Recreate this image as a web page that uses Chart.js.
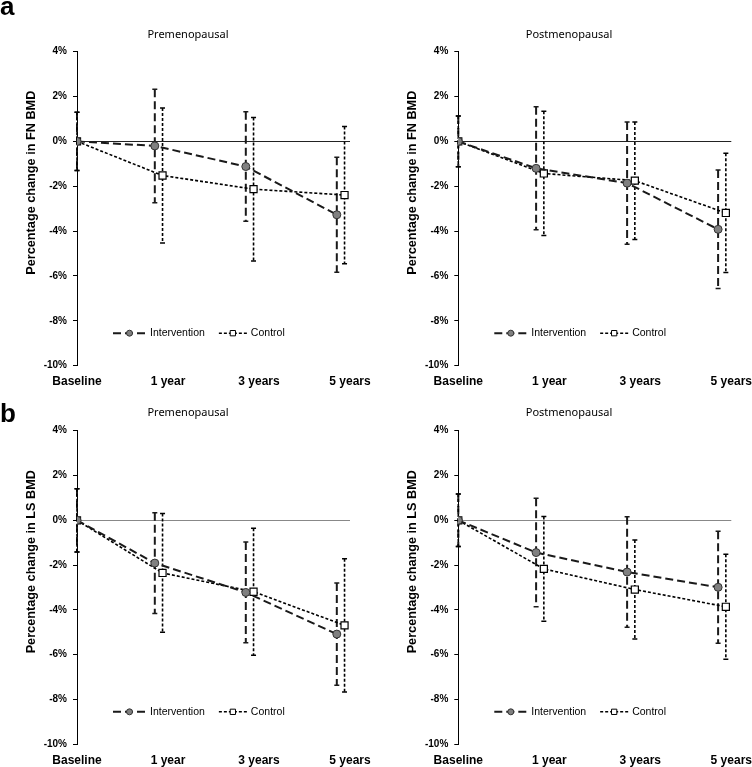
<!DOCTYPE html>
<html>
<head>
<meta charset="utf-8">
<script src="https://cdn.jsdelivr.net/npm/chart.js@4.4.0/dist/chart.umd.min.js"></script>
<style>
    body { margin: 0; background: #fff; width: 752px; height: 767px; position: relative; overflow: hidden; }
    canvas { position: absolute; }
    .tag { position: absolute; left: 0; font: bold 26px "Liberation Sans", Arial, sans-serif; line-height: 26px; color: #000; }
</style>
</head>
<body>
<canvas id="fnPre" width="376" height="390" style="left:0;top:0"></canvas>
<canvas id="fnPost" width="366" height="390" style="left:386px;top:0"></canvas>
<canvas id="lsPre" width="376" height="377" style="left:0;top:390px"></canvas>
<canvas id="lsPost" width="366" height="377" style="left:386px;top:390px"></canvas>
<div class="tag" style="top:-7px">a</div>
<div class="tag" style="top:400px">b</div>
<script>
// Categories and tick labels
const categories = ['Baseline', '1 year', '3 years', '5 years'];
const yTickValues = [-10, -8, -6, -4, -2, 0, 2, 4];
const seriesNames = ['Intervention', 'Control'];
const panelTitles = ['Premenopausal', 'Postmenopausal'];
const yTitles = ['Percentage change in FN BMD', 'Percentage change in LS BMD'];

// Femoral neck, premenopausal (mean % change, +/- error)
const fnPreIntervention = [0, -0.20, -1.12, -3.27];
const fnPreInterventionErr = [1.30, 2.53, 2.44, 2.56];
const fnPreControl = [0, -1.52, -2.13, -2.39];
const fnPreControlErr = [1.30, 3.01, 3.20, 3.06];

// Femoral neck, postmenopausal
const fnPostIntervention = [0, -1.20, -1.86, -3.92];
const fnPostInterventionErr = [1.13, 2.74, 2.73, 2.64];
const fnPostControl = [0, -1.43, -1.75, -3.19];
const fnPostControlErr = [1.13, 2.77, 2.62, 2.66];

// Lumbar spine, premenopausal
const lsPreIntervention = [0, -1.91, -3.22, -5.08];
const lsPreInterventionErr = [1.41, 2.25, 2.25, 2.28];
const lsPreControl = [0, -2.35, -3.19, -4.69];
const lsPreControlErr = [1.41, 2.65, 2.83, 2.97];

// Lumbar spine, postmenopausal
const lsPostIntervention = [0, -1.44, -2.31, -2.99];
const lsPostInterventionErr = [1.17, 2.42, 2.47, 2.50];
const lsPostControl = [0, -2.17, -3.09, -3.86];
const lsPostControlErr = [1.17, 2.34, 2.21, 2.34];

const FONT = "'Liberation Sans', Arial, sans-serif";
// small horizontal shift of the two series so the error bars don't overlap
const interventionShift = -0.145;
const controlShift = -0.06;

function toPoints(values, shift) {
    return values.map((v, i) => ({ x: i === 0 ? i : i + shift, y: v }));
}

// vertical error bars, drawn under the markers
const errorBars = {
    id: 'errorBars',
    beforeDatasetsDraw(chart) {
        const ctx = chart.ctx;
        const yScale = chart.scales.y;
        chart.data.datasets.forEach((ds, di) => {
            const meta = chart.getDatasetMeta(di);
            ctx.save();
            ctx.strokeStyle = ds.borderColor;
            meta.data.forEach((pt, i) => {
                const v = ds.data[i].y;
                const e = ds.errors[i];
                const top = yScale.getPixelForValue(v + e);
                const bottom = yScale.getPixelForValue(v - e);
                ctx.lineWidth = ds.borderWidth;
                ctx.setLineDash(ds.borderDash);
                ctx.beginPath();
                ctx.moveTo(pt.x, top);
                ctx.lineTo(pt.x, bottom);
                ctx.stroke();
                ctx.setLineDash([]);
                ctx.lineWidth = 1.5;
                ctx.beginPath();
                ctx.moveTo(pt.x - 2.5, top);
                ctx.lineTo(pt.x + 2.5, top);
                ctx.moveTo(pt.x - 2.5, bottom);
                ctx.lineTo(pt.x + 2.5, bottom);
                ctx.stroke();
            });
            ctx.restore();
        });
    }
};

// legend with line + marker glyphs, sitting inside the plot
const lineLegend = {
    id: 'lineLegend',
    afterDraw(chart, args, opts) {
        const { ctx, chartArea, scales } = chart;
        const y = scales.y.getPixelForValue(opts.value);
        let x = chartArea.left + opts.indent;
        ctx.save();
        ctx.font = '10.5px ' + FONT;
        ctx.textBaseline = 'middle';
        chart.data.datasets.forEach((ds, i) => {
            const w = opts.glyphWidths[i];
            ctx.strokeStyle = ds.borderColor;
            ctx.lineWidth = ds.borderWidth;
            ctx.setLineDash(ds.borderDash);
            ctx.beginPath();
            ctx.moveTo(x, y);
            ctx.lineTo(x + w, y);
            ctx.stroke();
            ctx.setLineDash([]);
            ctx.fillStyle = ds.pointBackgroundColor;
            ctx.strokeStyle = ds.pointBorderColor;
            ctx.lineWidth = 1;
            Chart.helpers.drawPoint(ctx, {
                pointStyle: ds.pointStyle, radius: ds.pointRadius * 0.75, borderWidth: 1, rotation: 0
            }, x + w / 2, y);
            ctx.fillStyle = '#000';
            ctx.fillText(ds.label, x + w + 4, y);
            x += w + 4 + ctx.measureText(ds.label).width + 14;
        });
        ctx.restore();
    }
};

// rotated y-axis title, placed a bit above the middle like the original
const sideTitle = {
    id: 'sideTitle',
    afterDraw(chart, args, opts) {
        const { ctx, chartArea } = chart;
        ctx.save();
        ctx.translate(chartArea.left - 45.5, chartArea.top + 131);
        ctx.rotate(-Math.PI / 2);
        ctx.font = 'bold 12.7px ' + FONT;
        ctx.textAlign = 'center';
        ctx.textBaseline = 'middle';
        ctx.fillStyle = '#000';
        ctx.fillText(opts.text, 0, 0);
        ctx.restore();
    }
};

function makePanel(id, title, yTitle, intervention, interventionErr, control, controlErr, layout) {
    const ctx = document.getElementById(id).getContext('2d');
    return new Chart(ctx, {
        type: 'line',
        data: {
            datasets: [{
                label: seriesNames[0],
                data: toPoints(intervention, interventionShift),
                errors: interventionErr,
                borderColor: '#1a1a1a',
                borderWidth: 2,
                borderDash: [8, 4],
                pointStyle: 'circle',
                pointRadius: 4,
                pointBackgroundColor: '#808080',
                pointBorderColor: '#333',
                pointBorderWidth: 1,
                fill: false
            }, {
                label: seriesNames[1],
                data: toPoints(control, controlShift),
                errors: controlErr,
                borderColor: '#000',
                borderWidth: 1.6,
                borderDash: [3, 2],
                pointStyle: 'rect',
                pointRadius: 5,
                pointBackgroundColor: '#fff',
                pointBorderColor: '#000',
                pointBorderWidth: 1.2,
                fill: false
            }]
        },
        options: {
            responsive: false,
            animation: false,
            devicePixelRatio: 1,
            layout: { padding: 0 },
            scales: {
                x: {
                    type: 'linear',
                    min: 0,
                    max: categories.length - 1,
                    ticks: {
                        stepSize: 1,
                        autoSkip: false,
                        maxRotation: 0,
                        padding: 9,
                        color: '#000',
                        font: { family: FONT, size: 12, weight: 'bold' },
                        callback: v => categories[v]
                    },
                    grid: { display: false, drawTicks: false },
                    border: { display: false },
                    afterFit: s => {
                        s.height = layout.xHeight;
                        s.paddingLeft = 0;
                        s.paddingRight = layout.rightGap;
                    }
                },
                y: {
                    min: Math.min(...yTickValues),
                    max: Math.max(...yTickValues),
                    ticks: {
                        stepSize: 2,
                        padding: 6,
                        color: '#000',
                        font: { family: FONT, size: 10, weight: 'bold' },
                        callback: v => v + '%'
                    },
                    grid: {
                        color: c => (c.tick && c.tick.value === 0) ? layout.zeroColor : 'rgba(0,0,0,0)',
                        tickColor: '#000',
                        tickLength: 4,
                        lineWidth: 1
                    },
                    border: { display: true, color: '#000', width: 1 },
                    afterFit: s => {
                        s.width = layout.axisLeft;
                        s.paddingTop = 0;
                        s.paddingBottom = 0;
                    }
                }
            },
            plugins: {
                legend: { display: false },
                tooltip: { enabled: false },
                title: {
                    display: true,
                    text: title,
                    color: '#000',
                    font: { family: "'Noto Sans', sans-serif", size: 11, weight: 'normal' },
                    padding: layout.titlePad
                },
                lineLegend: { value: -8.55, indent: 36, glyphWidths: [33, 28] },
                sideTitle: { text: yTitle }
            }
        },
        plugins: [errorBars, lineLegend, sideTitle]
    });
}

const topRow = { titlePad: { top: 28.4, bottom: 10.1 }, xHeight: 24.3, zeroColor: '#222' };
const bottomRow = { titlePad: { top: 16.4, bottom: 11.1 }, xHeight: 22.7, zeroColor: '#888' };
const leftCol = { axisLeft: 77, rightGap: 26 };
const rightCol = { axisLeft: 72.3, rightGap: 20.7 };

makePanel('fnPre', panelTitles[0], yTitles[0], fnPreIntervention, fnPreInterventionErr,
    fnPreControl, fnPreControlErr, Object.assign({}, topRow, leftCol));
makePanel('fnPost', panelTitles[1], yTitles[0], fnPostIntervention, fnPostInterventionErr,
    fnPostControl, fnPostControlErr, Object.assign({}, topRow, rightCol));
makePanel('lsPre', panelTitles[0], yTitles[1], lsPreIntervention, lsPreInterventionErr,
    lsPreControl, lsPreControlErr, Object.assign({}, bottomRow, leftCol));
makePanel('lsPost', panelTitles[1], yTitles[1], lsPostIntervention, lsPostInterventionErr,
    lsPostControl, lsPostControlErr, Object.assign({}, bottomRow, rightCol));
</script>
</body>
</html>
